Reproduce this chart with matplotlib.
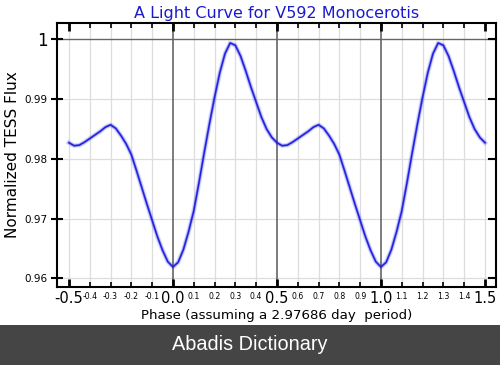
import matplotlib
matplotlib.use("Agg")
import matplotlib.pyplot as plt
from matplotlib.patches import Rectangle
import numpy as np

# folded light curve, one period (phase step 0.025)
phase = [0.000, 0.025, 0.050, 0.075, 0.100, 0.125, 0.150, 0.175, 0.200, 0.225,
         0.250, 0.275, 0.300, 0.325, 0.350, 0.375, 0.400, 0.425, 0.450, 0.475,
         0.500, 0.525, 0.550, 0.575, 0.600, 0.625, 0.650, 0.675, 0.700, 0.725,
         0.750, 0.775, 0.800, 0.825, 0.850, 0.875, 0.900, 0.925, 0.950, 0.975,
         1.000]
flux = [0.9619, 0.9627, 0.9648, 0.9678, 0.9713, 0.9760, 0.9810, 0.9858, 0.9903, 0.9944,
        0.9976, 0.9994, 0.9990, 0.9972, 0.9947, 0.9920, 0.9895, 0.9870, 0.9850, 0.9836,
        0.9827, 0.9822, 0.9823, 0.9828, 0.9834, 0.9840, 0.9846, 0.9853, 0.9857, 0.9851,
        0.9839, 0.9825, 0.9807, 0.9780, 0.9752, 0.9724, 0.9697, 0.9670, 0.9647, 0.9628,
        0.9619]

major_x = [-0.5, 0.0, 0.5, 1.0, 1.5]
minor_x = [-0.4, -0.3, -0.2, -0.1, 0.1, 0.2, 0.3, 0.4, 0.6, 0.7, 0.8, 0.9,
           1.1, 1.2, 1.3, 1.4]
y_ticks = [0.96, 0.97, 0.98, 0.99, 1.0]
y_labels = ["0.96", "0.97", "0.98", "0.99", "1"]

# repeat the period so the plot covers -0.5 .. 1.5
ph = np.asarray(phase)
fl = np.asarray(flux)
x = np.concatenate([ph - 1, ph[1:], ph[1:] + 1])
y = np.concatenate([fl, fl[1:], fl[1:]])
keep = (x >= -0.5) & (x <= 1.5)
x = x[keep]
y = y[keep]

fig = plt.figure(figsize=(5, 3.65), dpi=100)
ax = fig.add_axes([0.114, 0.2145, 0.878, 0.7215])

blue = "#2020e0"
ax.plot(x, y, color=blue, lw=3.5, alpha=0.15)
ax.plot(x, y, color=blue, lw=2.0, alpha=0.35)
ax.plot(x, y, color=blue, lw=1.1)

ax.set_xlim(-0.5575, 1.553)
ax.set_ylim(0.9586, 1.00268)

# grid
for v in minor_x + [-0.5, 1.5]:
    ax.axvline(v, color="#dddddd", lw=0.9, zorder=0)
for v in y_ticks[:-1]:
    ax.axhline(v, color="#dddddd", lw=0.9, zorder=0)
for v in [0.0, 0.5, 1.0]:
    ax.axvline(v, color="#666666", lw=1.2, zorder=0.5)
ax.axhline(1.0, color="#666666", lw=1.0, zorder=0.5)

ax.set_xticks(major_x)
ax.set_xticklabels(["-0.5", "0.0", "0.5", "1.0", "1.5"], fontsize=10.5)
ax.set_xticks(minor_x, minor=True)
ax.set_xticklabels(["%.1f" % v for v in minor_x], minor=True, fontsize=5.6)
ax.tick_params(axis="x", which="major", direction="in", length=6, width=2,
               top=True, bottom=True, pad=3)
ax.tick_params(axis="x", which="minor", direction="in", length=3.5, width=1.2,
               top=True, bottom=True, pad=3.5)

ax.set_yticks(y_ticks)
ax.set_yticklabels(y_labels, fontsize=7.5)
ax.get_yticklabels()[-1].set_fontsize(12)
ax.tick_params(axis="y", which="major", direction="inout", length=9, width=1.5,
               left=True, right=False, pad=2)
for v in y_ticks:
    ax.plot([1.0, 0.985], [v, v], transform=ax.get_yaxis_transform(),
            color="black", lw=1.5, clip_on=False)

for s in ax.spines.values():
    s.set_linewidth(1.5)

ax.set_title("A Light Curve for V592 Monocerotis", color="#1a1ad0",
             fontsize=11.5, pad=4)
ax.set_ylabel("Normalized TESS Flux", fontsize=11)
ax.yaxis.set_label_coords(-0.085, 0.5)
ax.set_xlabel("Phase (assuming a 2.97686 day  period)", fontsize=9.6, labelpad=2)

# bottom banner
fig.patches.append(Rectangle((0, 0), 1, 40 / 365, transform=fig.transFigure,
                             facecolor="#454545", edgecolor="none", zorder=0))
fig.text(0.5, 20 / 365, "Abadis Dictionary", color="white", fontsize=14.3,
         family="Liberation Sans", ha="center", va="center")

fig.savefig("out.png", dpi=100)
